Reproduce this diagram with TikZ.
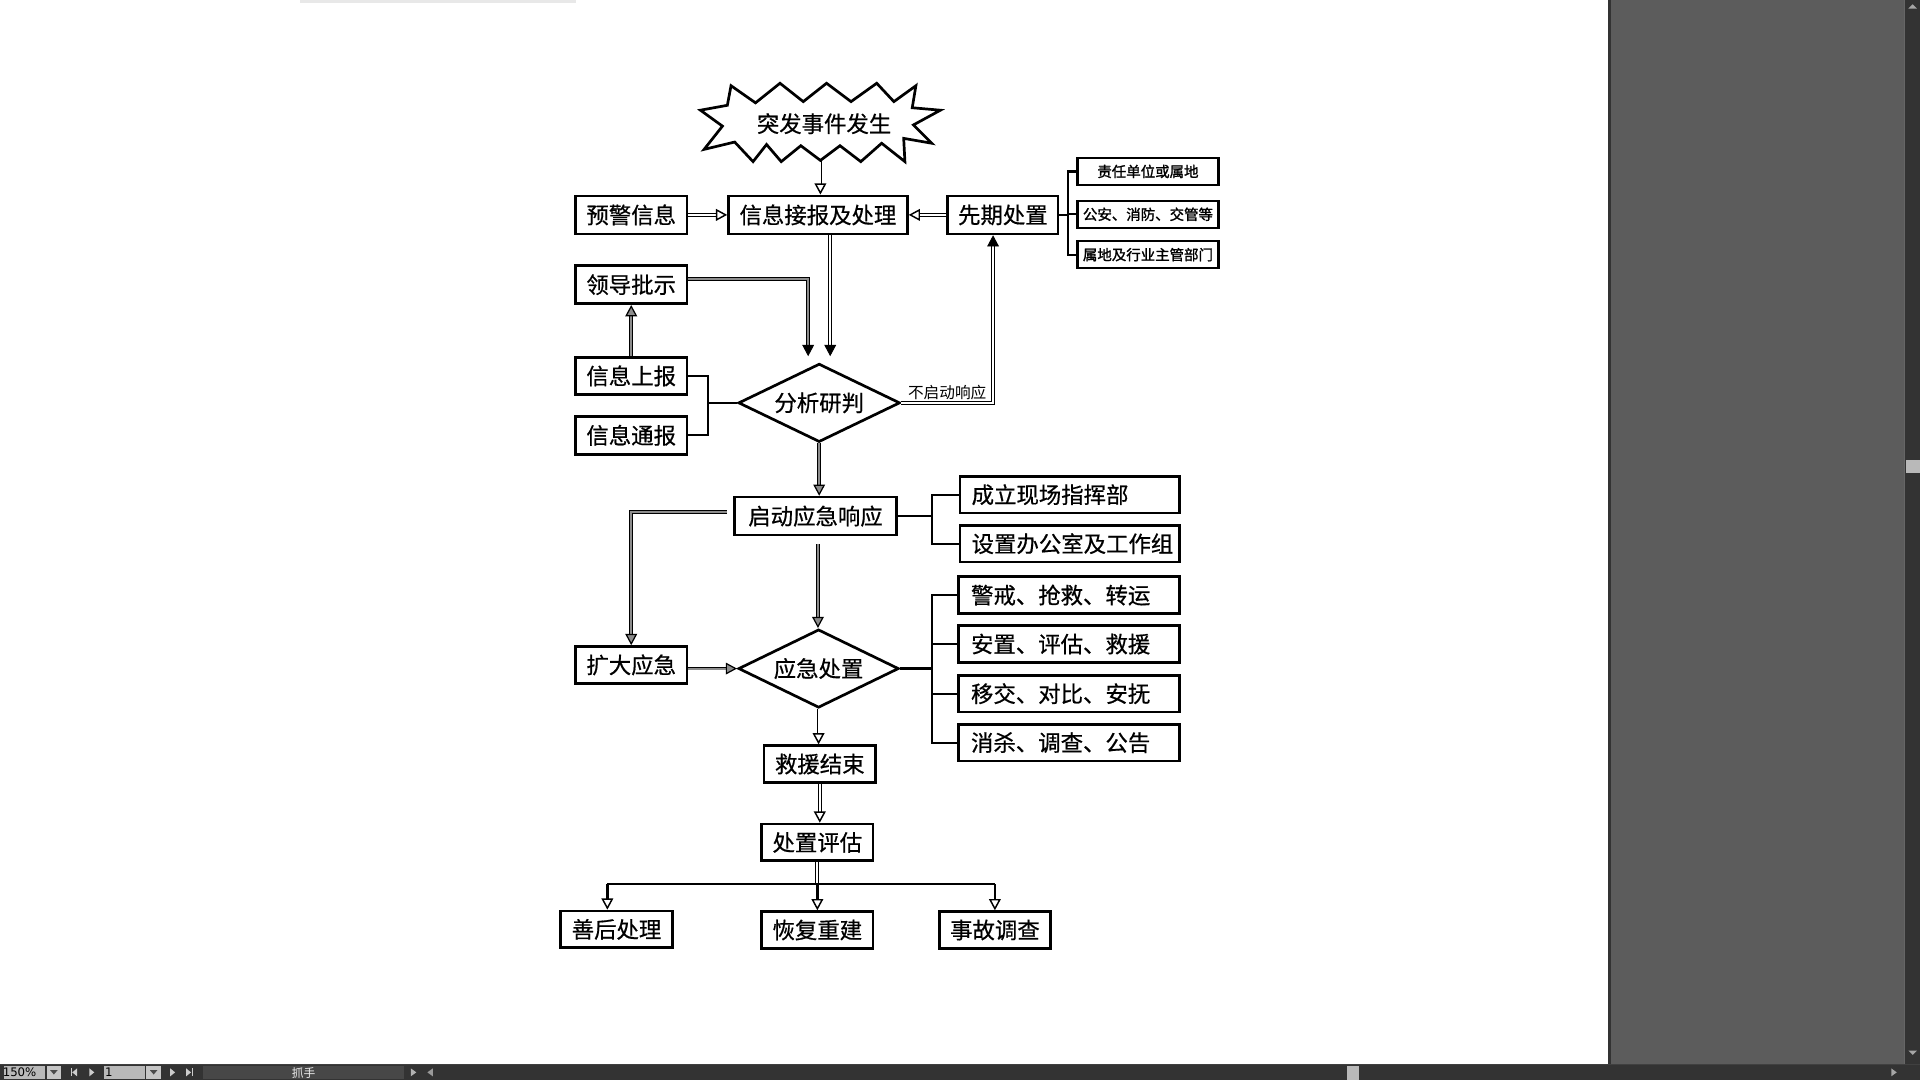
\documentclass[tikz,border=0pt]{standalone}
\usepackage{fontspec}
\usetikzlibrary{shapes.geometric,arrows.meta,calc}
\newfontfamily\cjk[FakeBold=0.6]{Noto Sans CJK SC}
\newfontfamily\cjkl{Noto Sans CJK SC}
\newfontfamily\cjkb[FakeBold=1.5]{Noto Sans CJK SC}
\newfontfamily\uif{DejaVu Sans}
\definecolor{panel}{HTML}{5C5C5C}
\definecolor{chrome}{HTML}{333333}
\definecolor{arrg}{HTML}{8C8C8C}
\newcommand\lefttxt[1]{\makebox[80pt][l]{#1}}
\tikzset{
  box/.style={draw, line width=1.1pt, inner sep=0pt, fill=white,
    font=\cjk\fontsize{9.15pt}{11pt}\selectfont, minimum height=15.5pt},
  w45/.style={minimum width=45.5pt},
  sbox/.style={draw, line width=1pt, inner sep=0pt, fill=white,
    font=\cjkb\fontsize{5.9pt}{7pt}\selectfont, minimum width=57.5pt, minimum height=11pt},
  lbox/.style={box, minimum width=90pt, minimum height=15pt},
  dia/.style={diamond, draw, line width=1.1pt, inner sep=0pt, shape aspect=2.06,
    minimum width=66pt, minimum height=32pt, fill=white,
    font=\cjk\fontsize{9.15pt}{11pt}\selectfont},
  brk/.style={draw, line width=0.9pt},
  sh/.style={draw=black, line width=0.35pt, double=#1, double distance=0.85pt},
  sh/.default=white,
  tw/.style={-{Triangle[open, length=4.6pt, width=4.8pt, line width=0.6pt]}},
  tk/.style={-{Triangle[length=4.6pt, width=4.8pt]}},
  tg/.style={-{Triangle[length=4.6pt, width=4.8pt, fill=arrg, line width=0.5pt]}},
  uitxt/.style={font=\uif\fontsize{4.8pt}{5pt}\selectfont, inner sep=0pt},
}
\begin{document}
\begin{tikzpicture}[x=0.5pt,y=-0.5pt]
\useasboundingbox (0,0) rectangle (1568,882);
\fill[white] (0,0) rectangle (1568,882);
% window chrome
\fill[gray!18] (245,0) rectangle (470,2.5);
\fill[panel] (1313,0) rectangle (1555,869);
\fill[chrome] (1313,0) rectangle (1315.5,869);
\fill[chrome] (1555,0) rectangle (1568,869);
\fill[black!60] (1555,0) rectangle (1556,869);
\fill[gray!55] (1556.5,376) rectangle (1568,386);
\fill[gray!70] (1558.5,7) -- (1565.5,7) -- (1562,3.5) -- cycle;
\fill[gray!70] (1558.5,858) -- (1565.5,858) -- (1562,861.5) -- cycle;
\fill[chrome] (0,869) rectangle (1568,882);
\fill[black!75] (0,869) rectangle (1568,870);
\fill[gray!55] (3,870.5) rectangle (37,881);
\fill[gray!45] (38,870.5) rectangle (49.5,881);
\fill[black!70] (41,874) -- (47,874) -- (44,877.5) -- cycle;
\node[uitxt, text=black] (zoomtxt) at (16,876) {150\%};
\fill[gray!40] (58,872.5) rectangle (58.7,879);
\fill[gray!40] (59,875.75) -- (63,872.5) -- (63,879) -- cycle;
\fill[gray!40] (77,875.75) -- (73,872.5) -- (73,879) -- cycle;
\fill[gray!55] (85,870.5) rectangle (118.5,881);
\fill[gray!45] (119.5,870.5) rectangle (131.5,881);
\fill[black!70] (122.5,874) -- (128.5,874) -- (125.5,877.5) -- cycle;
\node[uitxt, text=black] (pagetxt) at (89,876) {1};
\fill[gray!40] (139,872.5) -- (143,875.75) -- (139,879) -- cycle;
\fill[gray!40] (152,872.5) -- (156,875.75) -- (152,879) -- cycle;
\fill[gray!40] (156.5,872.5) rectangle (157.2,879);
\fill[black!72] (166,870.5) rectangle (330,881);
\node[font=\cjkl\fontsize{4.8pt}{5pt}\selectfont, inner sep=0pt, text=gray!15] (tooltxt) at (248,876) {抓手};
\fill[gray!60] (335.5,872.5) -- (340,875.75) -- (335.5,879) -- cycle;
\fill[gray!80] (353.5,872.5) -- (349,875.75) -- (353.5,879) -- cycle;
\fill[gray!55] (1100,870.5) rectangle (1110,882);
\fill[gray!70] (1544.5,872.5) -- (1549,875.75) -- (1544.5,879) -- cycle;

% ---------- nodes ----------
\node[box, w45] (yujing) at (515.5,175.5) {预警信息};
\node[box, minimum width=73pt] (xinxi) at (668,175.5) {信息接报及处理};
\node[box, minimum width=45pt] (xianqi) at (819,175.5) {先期处置};
\node[sbox] (r1) at (937.5,140) {责任单位或属地};
\node[sbox] (r2) at (937.5,175) {公安、消防、交管等};
\node[sbox] (r3) at (937.5,208) {属地及行业主管部门};
\node[box, w45] (lingdao) at (515.5,232.5) {领导批示};
\node[box, w45, minimum height=15pt] (shangbao) at (515.5,307) {信息上报};
\node[box, w45] (tongbao) at (515.5,355.5) {信息通报};
\node[dia] (fenxi) at (669,329) {分析研判};
\node[box, minimum width=66pt] (qidong) at (666,421.5) {启动应急响应};
\node[lbox, minimum width=89.5pt] (c1) at (873.5,404) {\lefttxt{成立现场指挥部}};
\node[lbox, minimum width=89.5pt] (c2) at (873.5,444) {\lefttxt{设置办公室及工作组}};
\node[box, w45, minimum height=15pt] (kuoda) at (515.5,543) {扩大应急};
\node[dia, minimum width=65.5pt] (yingji) at (668.5,546) {应急处置};
\node[lbox] (k1) at (873,486) {\lefttxt{警戒、抢救、转运}};
\node[lbox] (k2) at (873,526) {\lefttxt{安置、评估、救援}};
\node[lbox] (k3) at (873,566.5) {\lefttxt{移交、对比、安抚}};
\node[lbox] (k4) at (873,606.5) {\lefttxt{消杀、调查、公告}};
\node[box, w45, minimum height=15pt] (jieshu) at (669.5,624) {救援结束};
\node[box, w45, minimum height=15pt] (pinggu) at (667.5,688) {处置评估};
\node[box, w45, minimum height=15pt] (shanhou) at (503.5,759) {善后处理};
\node[box, w45, minimum height=15pt] (huifu) at (667.5,759.5) {恢复重建};
\node[box, w45, minimum height=15pt] (diaocha) at (812.5,759.5) {事故调查};

% ---------- connectors ----------
\coordinate (sbtip) at (670,127);
\draw[sh, tw] (sbtip) -- (sbtip |- xinxi.north);
\draw[sh, tw] (yujing.east) -- (xinxi.west);
\draw[sh, tw] (xianqi.west) -- (xinxi.east);
\coordinate (b1) at (872,175.5);
\draw[brk] (xianqi.east) -- (b1);
\draw[brk] (r1.west) -| (b1 |- r3.west) -- (r3.west);
\draw[brk] (b1 |- r2.west) -- (r2.west);

\coordinate (fa) at ([xshift=-4.5pt, yshift=2.5pt]fenxi.north);
\coordinate (fb) at ([xshift=4.5pt, yshift=2.5pt]fenxi.north);
\draw[sh, tk] (xinxi.south -| fb) -- (fb);
\draw[sh=arrg, tk] ([yshift=2.25pt]lingdao.east) -| (fa);
\draw[sh=arrg, tg] (shangbao.north) -- (lingdao.south);
\coordinate (b2) at (578,329);
\draw[brk] (shangbao.east) -| (b2 |- tongbao.east) -- (tongbao.east);
\draw[brk] (b2) -- (fenxi.west);
\draw[sh, tk] (fenxi.east) -| node[pos=0.25, above=1.2pt, inner sep=0pt,
  font=\cjkl\fontsize{6.4pt}{7pt}\selectfont] (bqd) {不启动响应} ([xshift=-4pt]xianqi.south);

\draw[sh=arrg, tg] (fenxi.south) -- (fenxi.south |- qidong.north);
\coordinate (b3) at (761,421.5);
\draw[brk] (qidong.east) -- (b3);
\draw[brk] (c1.west) -| (b3 |- c2.west) -- (c2.west);
\draw[sh=arrg, tg] ([xshift=-2.5pt, yshift=1.75pt]qidong.west) -| (kuoda.north);
\coordinate (q1) at ([xshift=1pt, yshift=-3pt]qidong.south);
\draw[sh=arrg, tg] (q1) -- (q1 |- yingji.north);
\draw[sh=arrg, tg] (kuoda.east |- yingji.west) -- (yingji.west);
\coordinate (b4) at (761,546);
\draw[brk] (yingji.east) -- (b4);
\draw[brk] (k1.west) -| (b4 |- k4.west) -- (k4.west);
\draw[brk] (b4 |- k2.west) -- (k2.west);
\draw[brk] (b4 |- k3.west) -- (k3.west);

\draw[sh, tw] (yingji.south) -- (yingji.south |- jieshu.north);
\draw[sh, tw] (jieshu.south) -- (jieshu.south |- pinggu.north);
\coordinate (split) at (667.5,722);
\draw[sh] (pinggu.south) -- (split);
\coordinate (sL) at ([xshift=-3.75pt]shanhou.north);
\draw[line width=1.1pt] (sL |- split) -- (diaocha.north |- split);
\draw[line width=1pt, tw] (sL |- split) -- (sL);
\draw[line width=1pt, tw] (split) -- (huifu.north);
\draw[line width=1pt, tw] (diaocha.north |- split) -- (diaocha.north);

% ---------- starburst ----------
\draw[line width=1.1pt, fill=white, line join=miter]
  (597,70) -- (617,84) -- (637,68) -- (656,83) -- (675,68) -- (695,83) -- (716,68)
  -- (730,83) -- (748,70) -- (745,88) -- (768,90) -- (746,102) -- (761,117)
  -- (738,113) -- (739,132) -- (720,117) -- (703,132) -- (686,119) -- (670,131)
  -- (654,119) -- (638,132) -- (626,118) -- (615,132) -- (600,116) -- (575,122)
  -- (590,103) -- (572,90) -- (594,86) -- cycle;
\node[font=\cjk\fontsize{9.15pt}{11pt}\selectfont, inner sep=0pt] (sb) at (673,101) {突发事件发生};
\end{tikzpicture}
\end{document}
